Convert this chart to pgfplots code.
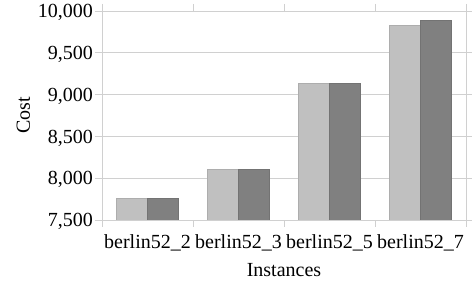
\documentclass[border=0pt]{standalone}
\usepackage{pgfplots}
\pgfplotsset{compat=1.18}
\usepackage{fontspec}
\setmainfont{Liberation Serif}
\definecolor{lightbar}{RGB}{192,192,192}
\definecolor{darkbar}{RGB}{128,128,128}
\definecolor{gridc}{RGB}{208,208,208}
\definecolor{baseline}{RGB}{168,168,168}
\begin{document}
\fontsize{20}{24}\selectfont
\begin{tikzpicture}
\useasboundingbox (-102pt,-69pt) rectangle (370pt,220pt);
\begin{axis}[
  at={(0pt,0pt)}, anchor=south west,
  scale only axis, width=364pt, height=209pt,
  ymin=7500, ymax=10000,
  ytick={7500,8000,8500,9000,9500,10000},
  xmin=-0.5, xmax=3.5,
  xtick={0,1,2,3},
  xticklabels={berlin52\_2,berlin52\_3,berlin52\_5,berlin52\_7},
  minor xtick={-0.5,0.5,1.5,2.5,3.5},
  ymajorgrids,
  major grid style={gridc, line width=0.8pt},
  axis line style={gridc, line width=0.8pt},
  tick align=outside,
  major tick length=7pt,
  minor tick length=7pt,
  tick style={gridc, line width=0.8pt},
  major x tick style={draw=none},
  scaled y ticks=false,
  /pgf/number format/.cd, 1000 sep={,}, assume math mode=true,
  /pgfplots/.cd,
  yticklabel style={anchor=base east, inner sep=0pt, xshift=-2pt, yshift=-6.8pt},
  xticklabel style={anchor=base, inner sep=0pt, yshift=-22pt},
  xlabel={Instances},
  ylabel={Cost},
  xlabel style={at={([yshift=-57pt]axis description cs:0.5,0)}, anchor=base},
  ylabel style={at={([xshift=-72pt]axis description cs:0,0.5)}, anchor=base},
  ybar=0pt, bar width=31pt,
  clip=true,
]
\addplot[fill=lightbar, draw=lightbar!90!black, line width=0.5pt] coordinates {(0,7758) (1,8108) (2,9130) (3,9824)};
\addplot[fill=darkbar, draw=darkbar!90!black, line width=0.5pt] coordinates {(0,7758) (1,8108) (2,9130) (3,9887)};
\draw[baseline, line width=0.8pt] (rel axis cs:0,0) -- (rel axis cs:1,0);
\end{axis}
\end{tikzpicture}
\end{document}
